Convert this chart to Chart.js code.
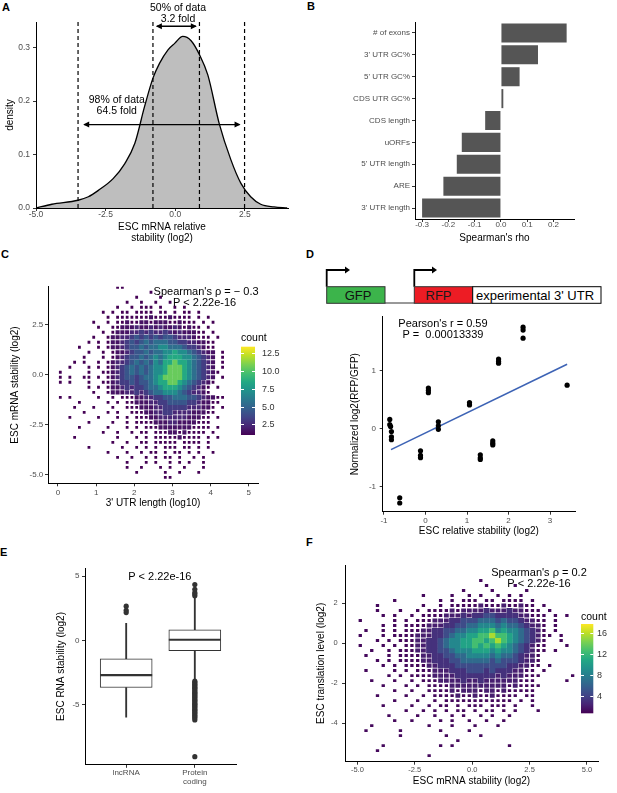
<!DOCTYPE html>
<html>
<head>
<meta charset="utf-8">
<title>ESC mRNA stability</title>
<script src="https://cdn.jsdelivr.net/npm/chart.js@4.4.1/dist/chart.umd.min.js"></script>
<style>
  html, body { margin: 0; padding: 0; background: #fff; }
  body { position: relative; width: 617px; height: 793px; overflow: hidden; font-family: 'Liberation Sans', Arial, sans-serif; }
  canvas { position: absolute; }
  .panel { position: absolute; font-weight: bold; font-size: 11px; line-height: 12px; color: #000; }
  #construct { position: absolute; left: 300px; top: 260px; }
</style>
</head>
<body>
<div class="panel" style="left:2px;top:1px">A</div>
<div class="panel" style="left:307px;top:0px">B</div>
<div class="panel" style="left:1px;top:248px">C</div>
<div class="panel" style="left:306px;top:248px">D</div>
<div class="panel" style="left:0px;top:546px">E</div>
<div class="panel" style="left:306px;top:536px">F</div>

<svg id="construct" width="317" height="50" font-family="'Liberation Sans', Arial, sans-serif">
  <path d="M26.7 26.7 V10 H46" stroke="#000" stroke-width="1.8" fill="none"/>
  <polygon points="45,6.5 50,10 45,13.5" fill="#000"/>
  <path d="M114.3 26.7 V10 H133" stroke="#000" stroke-width="1.8" fill="none"/>
  <polygon points="132,6.5 137,10 132,13.5" fill="#000"/>
  <line x1="85" y1="43" x2="114.3" y2="43" stroke="#333" stroke-width="1"/>
  <rect x="26.7" y="26.7" width="58.3" height="16.6" fill="#3cb44b" stroke="#333" stroke-width="1"/>
  <rect x="114.3" y="26.7" width="58.4" height="16.6" fill="#ed1c24" stroke="#333" stroke-width="1"/>
  <rect x="172.7" y="26.7" width="128.3" height="16.6" fill="#fff" stroke="#000" stroke-width="1"/>
  <text x="58" y="35.5" font-size="13" text-anchor="middle" dominant-baseline="central" fill="#111">GFP</text>
  <text x="138.5" y="35.5" font-size="13" text-anchor="middle" dominant-baseline="central" fill="#1a1a1a">RFP</text>
  <text x="235" y="35.5" font-size="13" text-anchor="middle" dominant-baseline="central" fill="#000">experimental 3' UTR</text>
</svg>

<script>
const FONT = "'Liberation Sans', Arial, Helvetica, sans-serif"
const TICK_COLOR = '#4d4d4d'
Chart.defaults.font.family = FONT
Chart.defaults.animation = false
Chart.defaults.events = []
Chart.defaults.plugins.legend.display = false
Chart.defaults.plugins.tooltip.enabled = false

// ---- A: density of relative stability
const aX = [-5.0, -4.43, -3.49, -3.12, -2.76, -2.23, -1.81, -1.45, -1.10, -0.80, -0.56, -0.26, -0.02, 0.27, 0.57, 0.87, 1.17, 1.58, 2.0, 2.36, 2.71, 3.07, 3.55, 4.02]
const aY = [0, 0.007, 0.0145, 0.021, 0.033, 0.055, 0.083, 0.121, 0.19, 0.243, 0.271, 0.296, 0.308, 0.321, 0.313, 0.287, 0.249, 0.158, 0.09, 0.046, 0.021, 0.007, 0.002, 0]
const aCutoffs = [-3.49, -0.8, 0.87, 2.49]
const aSpan50 = [-0.66, 0.74]
const aSpan98 = [-3.27, 2.31]
const aSpanY = [0.34, 0.156]
const aXTicks = [-5, -2.5, 0, 2.5]
const aYTicks = [0, 0.1, 0.2, 0.3]
const aYMax = 0.348

// ---- B: spearman's rho per feature
const bFeatures = ['# of exons', "3' UTR GC%", "5' UTR GC%", 'CDS UTR GC%', 'CDS length', 'uORFs', "5' UTR length", 'ARE', "3' UTR length"]
const bRho = [0.25, 0.141, 0.071, 0.009, -0.06, -0.149, -0.168, -0.219, -0.30]
const bXTicks = [-0.3, -0.2, -0.1, 0, 0.1, 0.2]

// ---- C: 3' UTR length vs stability, binned counts (digit = count level)
const cXTicks = [0, 1, 2, 3, 4, 5]
const cYTicks = [2.5, 0, -2.5, -5]
const cBarTicks = [2.5, 5, 7.5, 10, 12.5]
const cLevelCounts = [0, 1, 1.6, 2.3, 3.2, 4.3, 5.5, 7, 8.5, 10.5]
const cRows = [
  '............|11..........|............',
  '............|.......1....|............',
  '............|....1....1..|............',
  '............|..1..1..1..1|............',
  '............|1..1.111.1..|1.1.........',
  '.........1.1|.11.1111.11.|1.11.1......',
  '..........1.|111111121112|1111.1.1....',
  '.......1..1.|112112212221|12111.1.1...',
  '........1..1|122232232322|321211.1....',
  '.........1.1|222334343343|2322211.1...',
  '.......1..12|233454545455|43332111.1..',
  '......1.1.12|234545656665|544332211...',
  '....1...1.12|234556566776|665443211...',
  '......1..1.1|223455656677|877654322.1.',
  '.....1...1.1|234556567678|887765432.1.',
  '...1.1..1.12|334565657688|988765432.1.',
  '..1...1.1.12|345656567789|998765432.1.',
  '1.....1..112|345656567789|9987654321..',
  '1.1..11.1.12|345545667899|998765432.1.',
  '1.1...1..112|344545567889|987654321...',
  '......1.1.12|234344566788|87654321.1..',
  '.......1..12|223343456677|76543321....',
  '1.1.....1..1|.11122334455|66655432211.',
  '....1.....1.|1.1122233445|5554432211..',
  '...1...1...1|..1112223344|444333221.1.',
  '.....1....1.|1..111223344|333322211...',
  '..1.....1...|1.1.11122333|33322211.1..',
  '......1....1|..1.11112223|32222111....',
  '....1.....1.|..1.1.111222|22221111.1..',
  '.........1..|1..1.11.1112|2121111.1...',
  '...1........|1...1.1.1111|121111.1.1..',
  '...........1|..1..11.1111|1.1111.1....',
  '......1.....|.1..1.1.1.11|1.11.1.1....',
  '..........1.|..1..1.11.1.|11.1.1..1...',
  '............|1..1..1.1.11|.1..1.1.....',
  '............|..1...1.1..1|.1.1..1.....',
  '............|..1..1...1.1|..1...1.....',
  '............|....1.....1.|.1...1......',
  '............|..........11|............',
]

// ---- D: reporter assay
const dX = [-0.86, -0.86, -0.84, -0.82, -0.82, -0.82, -0.62, -0.62, -0.12, -0.12, -0.12, 0.07, 0.07, 0.07, 0.31, 0.31, 0.31, 1.06, 1.06, 1.32, 1.32, 1.32, 1.62, 1.62, 1.62, 1.76, 1.76, 1.76, 2.35, 2.35, 2.35, 3.41]
const dY = [0.16, 0.07, 0.04, -0.05, -0.14, -0.19, -1.19, -1.28, -0.38, -0.46, -0.5, 0.7, 0.66, 0.62, 0.12, 0.05, -0.01, 0.45, 0.41, -0.45, -0.5, -0.53, -0.21, -0.25, -0.28, 1.2, 1.16, 1.13, 1.75, 1.7, 1.56, 0.75]
const dFitX = [-0.83, 3.41]
const dFitY = [-0.36, 1.11]
const dXTicks = [-1, 0, 1, 2, 3]
const dYTicks = [-1, 0, 1]

// ---- E: box plots
const eCats = ['lncRNA', ['Protein', 'coding']]
const eX = [1, 2]
const eLo = [-5.98, -3.08]
const eQ1 = [-3.67, -0.81]
const eMed = [-2.7, 0.05]
const eQ3 = [-1.44, 0.83]
const eHi = [1.33, 3.3]
const eOutLnc = [2.17, 2.35, 2.67]
const eOutPc = [3.48, 3.62, 3.73, 3.98, 4.36, -3.18, -3.27, -3.38, -3.46, -3.55, -3.66, -3.74, -3.83, -3.95, -4.04, -4.12, -4.23, -4.31, -4.42, -4.5, -4.61, -4.7, -4.78, -4.9, -4.98, -5.07, -5.18, -5.26, -5.37, -5.45, -5.56, -5.65, -5.74, -5.86, -5.95, -6.06, -6.2, -9.07]
const eYTicks = [5, 0, -5]

// ---- F: stability vs translation, binned counts
const fXTicks = [-5, -2.5, 0, 2.5, 5]
const fYTicks = [2, 0, -2, -4]
const fBarTicks = [4, 8, 12, 16]
const fLevelCounts = [0, 1, 2, 3, 4.5, 6.5, 8.5, 10.5, 12.5, 15.5]
const fRows = [
  '...........|...........|...........|...........',
  '...........|...........|.1.........|...........',
  '...........|...........|..1....1...|...........',
  '...........|.........1.|...1.....1.|...........',
  '...........|..1....1..1|.1..1.1.1..|...........',
  '........1..|.....1.1.11|1.11.1111.1|...........',
  '.....1.....|..1..1.1111|12111211211|.1.........',
  '.....1...1.|.1.11112122|22322232211|1.1........',
  '......1.1..|1.111122232|33443333221|11.1.1.....',
  '..1.....1.1|.1112223344|45554544322|11.1.......',
  '......1.1.1|11122233445|56665655432|21.1.......',
  '...1..1.1.1|11223344556|67786766543|21.1.......',
  '..1...1.111|12223345667|78898876543|211.1......',
  '.....1.1.11|12233456677|88789876543|21..1......',
  '..1...1.1.1|12233456677|87878765432|11...1.....',
  '....1..1.11|12233445666|77767665432|11.1.......',
  '...1...1.11|11223344556|66656554322|1..........',
  '.....1.1.11|11223334455|55545444322|1..........',
  '......1.1.1|11122333444|44444433221|1.1........',
  '...1....1.1|.1112223334|44343332211|.1.........',
  '.......1.1.|11112222333|33332322211|1.....1....',
  '....1...1..|1.111222232|23222222111|.....1.....',
  '......1...1|.1.11112222|22222212111|1..........',
  '........1..|1..11112122|21221211111|...........',
  '.....1....1|..1.1111211|21121111.11|...........',
  '........1..|.1..1.11111|1111111.1.1|...........',
  '......1....|1..1.11.1.1|11.111.1..1|...........',
  '..........1|..1.1.1.11.|1.11.1.1...|1..........',
  '.......1...|.1..1..1.1.|.1.1..1....|...........',
  '........1..|1....1.1..1|..1..1.....|...........',
  '....1......|...1...1...|1...1......|...........',
  '...1.....1.|.....1....1|...........|...........',
  '.........1.|......1....|.1.........|...........',
  '...........|........1..|...........|...........',
  '......1....|.....1.1...|......1....|...........',
  '.....1.....|...........|...........|...........',
  '...........|...1.......|...........|...........',
]

// ---------- helpers
const VIRIDIS = ['#440154', '#482475', '#414487', '#355f8d', '#2a788e', '#21918c', '#22a884', '#44bf70', '#7ad151', '#bddf26', '#fde725']

function hexRgb(h) { return [1, 3, 5].map(i => parseInt(h.slice(i, i + 2), 16)) }
function viridis(t) {
  t = Math.max(0, Math.min(1, t))
  const s = t * (VIRIDIS.length - 1)
  const i = Math.min(Math.floor(s), VIRIDIS.length - 2)
  const f = s - i
  const a = hexRgb(VIRIDIS[i]), b = hexRgb(VIRIDIS[i + 1])
  return `rgb(${a.map((v, k) => Math.round(v + (b[k] - v) * f)).join(',')})`
}

function makeCanvas(left, top, w, h) {
  const c = document.createElement('canvas')
  c.width = w; c.height = h
  c.style.left = left + 'px'; c.style.top = top + 'px'
  c.style.width = w + 'px'; c.style.height = h + 'px'
  document.body.appendChild(c)
  return c
}

function axis(o) {
  const horizontal = o.pos === 'bottom'
  const ticks = { padding: o.pad, color: TICK_COLOR, font: { size: o.fs, lineHeight: o.lh || 1 }, autoSkip: false, maxRotation: 0, minRotation: 0 }
  if (o.fmt) ticks.callback = o.fmt
  const a = {
    type: o.type || 'linear',
    position: o.pos,
    offset: !!o.offset,
    afterFit: s => { if (horizontal) s.height = o.size; else s.width = o.size },
    grid: { display: true, offset: false, drawOnChartArea: false, drawTicks: true, tickLength: 3, tickColor: '#333', lineWidth: 1 },
    border: { display: true, color: '#000', width: 1 },
    ticks,
    title: o.title ? { display: true, text: o.title, color: '#000', font: { size: 10, lineHeight: 1.1 }, padding: o.tpad } : { display: false },
  }
  if (o.min !== undefined) { a.min = o.min; a.max = o.max }
  if (o.ticks) a.afterBuildTicks = s => { s.ticks = o.ticks.map(v => ({ value: v })) }
  return a
}

const textPlugin = items => ({
  id: 'texts',
  afterDraw(chart) {
    const { ctx, scales: { x, y } } = chart
    ctx.save()
    ctx.textAlign = 'center'
    ctx.textBaseline = 'middle'
    ctx.fillStyle = '#000'
    items.forEach(t => {
      ctx.font = `${t.size || 11}px ${FONT}`
      ctx.fillText(t.text, x.getPixelForValue(t.x), y.getPixelForValue(t.y))
    })
    ctx.restore()
  }
})

const arrowHeads = {
  id: 'arrowHeads',
  afterDatasetsDraw(chart) {
    const ctx = chart.ctx
    chart.data.datasets.forEach((ds, i) => {
      if (!ds.arrow) return
      const pts = chart.getDatasetMeta(i).data
      ctx.save()
      ctx.fillStyle = '#000'
      ;[[pts[0], -1], [pts[pts.length - 1], 1]].forEach(([p, dir]) => {
        ctx.beginPath()
        ctx.moveTo(p.x + dir, p.y)
        ctx.lineTo(p.x - dir * 5, p.y - 3)
        ctx.lineTo(p.x - dir * 5, p.y + 3)
        ctx.closePath()
        ctx.fill()
      })
      ctx.restore()
    })
  }
}

function colorbar(o) {
  return {
    id: 'colorbar',
    afterDraw(chart) {
      const { ctx } = chart
      const bottom = o.top + o.h
      const toPx = v => bottom - (v - o.min) / (o.max - o.min) * o.h
      const g = ctx.createLinearGradient(0, bottom, 0, o.top)
      VIRIDIS.forEach((c, i) => g.addColorStop(i / (VIRIDIS.length - 1), c))
      ctx.save()
      ctx.fillStyle = g
      ctx.fillRect(o.x, o.top, o.w, o.h)
      ctx.strokeStyle = '#fff'
      ctx.lineWidth = 1
      ctx.font = `9px ${FONT}`
      ctx.textAlign = 'left'
      ctx.textBaseline = 'middle'
      ctx.fillStyle = '#333'
      o.ticks.forEach(v => {
        const y = Math.round(toPx(v)) + 0.5
        ctx.beginPath()
        ctx.moveTo(o.x, y); ctx.lineTo(o.x + 3, y)
        ctx.moveTo(o.x + o.w - 3, y); ctx.lineTo(o.x + o.w, y)
        ctx.stroke()
        ctx.fillText(o.fmt(v), o.labelX, y)
      })
      ctx.fillStyle = '#000'
      ctx.font = `10.5px ${FONT}`
      ctx.fillText('count', o.x, o.titleY)
      ctx.restore()
    }
  }
}

function binCells(rows, x0, dx, yTop, dy, levels) {
  const out = []
  rows.forEach((r, j) => {
    const row = r.replace(/\|/g, '')
    for (let i = 0; i < row.length; i++) {
      if (row[i] === '.') continue
      out.push({ x: x0 + (i + 0.5) * dx, y: yTop - (j + 0.5) * dy, count: levels[+row[i]] })
    }
  })
  return out.sort((a, b) => a.count - b.count)
}

const cellPx = (s, d) => Math.abs(s.getPixelForValue(d) - s.getPixelForValue(0))
// single-count bins read as thin specks, like the original fine binning
const cellScale = c => { const n = c.raw ? c.raw.count : 3; return n <= 1 ? 0.55 : n < 2.5 ? 0.8 : 1 }

function heatDataset(cells, dx, dy, min, max) {
  return {
    data: cells,
    pointStyle: 'line',
    pointRadius: c => (cellPx(c.chart.scales.x, dx) / 2 + 0.15) * cellScale(c),
    pointBorderWidth: c => (cellPx(c.chart.scales.y, dy) + 0.2) * cellScale(c),
    pointBorderColor: c => viridis(((c.raw ? c.raw.count : min) - min) / (max - min)),
    pointBackgroundColor: 'rgba(0,0,0,0)',
  }
}

// ---------- A
new Chart(makeCanvas(0, 0, 300, 245), {
  type: 'line',
  data: {
    datasets: [
      ...aCutoffs.map(q => ({ data: [{ x: q, y: 0 }, { x: q, y: aYMax }], borderColor: '#000', borderWidth: 1.2, borderDash: [4, 3], pointRadius: 0 })),
      { data: aSpan50.map(x => ({ x, y: aSpanY[0] })), borderColor: '#000', borderWidth: 1.4, pointRadius: 0, arrow: true },
      { data: aSpan98.map(x => ({ x, y: aSpanY[1] })), borderColor: '#000', borderWidth: 1.4, pointRadius: 0, arrow: true },
      { data: aX.map((x, i) => ({ x, y: aY[i] })), borderColor: '#000', borderWidth: 1.3, backgroundColor: '#bebebe', fill: 'origin', pointRadius: 0, cubicInterpolationMode: 'monotone' },
    ]
  },
  options: {
    responsive: false,
    layout: { padding: { top: 22, right: 12, left: 0, bottom: 0 } },
    scales: {
      x: axis({ pos: 'bottom', min: -5, max: 4.05, ticks: aXTicks, fmt: v => v.toFixed(1), size: 37, pad: -1, fs: 8.5, title: ['ESC mRNA relative', 'stability (log2)'], tpad: { bottom: 1.5 } }),
      y: axis({ pos: 'left', min: 0, max: aYMax, ticks: aYTicks, fmt: v => v.toFixed(1), size: 36, pad: 3, fs: 8.5, title: 'density', tpad: { top: 4.5 } }),
    }
  },
  plugins: [arrowHeads, textPlugin([
    { x: 0.1, y: 0.3745, text: '50% of data', size: 10.5 },
    { x: 0.1, y: 0.3535, text: '3.2 fold', size: 10.5 },
    { x: -2.1, y: 0.202, text: '98% of data', size: 10.5 },
    { x: -2.1, y: 0.182, text: '64.5 fold', size: 10.5 },
  ])]
})

// ---------- B
new Chart(makeCanvas(300, 0, 317, 245), {
  type: 'bar',
  data: { labels: bFeatures, datasets: [{ data: bRho, backgroundColor: '#555555', barPercentage: 0.87, categoryPercentage: 1 }] },
  options: {
    responsive: false,
    indexAxis: 'y',
    layout: { padding: { top: 22, right: 43, left: 0, bottom: 0 } },
    scales: {
      x: axis({ pos: 'bottom', min: -0.327, max: 0.278, ticks: bXTicks, fmt: v => v.toFixed(1), size: 26, pad: -1, fs: 8, title: "Spearman's rho", tpad: { bottom: 1.5 } }),
      y: axis({ type: 'category', pos: 'left', offset: true, size: 115, pad: 2, fs: 8 }),
    }
  }
})

// ---------- C
new Chart(makeCanvas(0, 260, 300, 252), {
  type: 'scatter',
  data: { datasets: [heatDataset(binCells(cRows, 0, 0.125, 4.5, 0.25, cLevelCounts), 0.125, 0.25, 1, 13.4)] },
  options: {
    responsive: false,
    layout: { padding: { top: 26.7, right: 42, left: 0, bottom: 0 } },
    scales: {
      x: axis({ pos: 'bottom', min: -0.26, max: 5.24, ticks: cXTicks, fmt: v => String(v), size: 28.7, pad: 2.2, fs: 8, title: "3' UTR length (log10)", tpad: { bottom: 3.2 } }),
      y: axis({ pos: 'left', min: -5.42, max: 4.4, ticks: cYTicks, fmt: v => v.toFixed(1), size: 48, pad: 1.7, fs: 8, title: 'ESC mRNA stability (log2)', tpad: { top: 9.5 } }),
    }
  },
  plugins: [
    colorbar({ x: 241, top: 86.7, w: 14, h: 88.3, min: 1, max: 13.4, ticks: cBarTicks, fmt: v => v.toFixed(1), labelX: 262, titleY: 78 }),
    textPlugin([
      { x: 3.88, y: 4.12, text: "Spearman's ρ = − 0.3" },
      { x: 3.84, y: 3.59, text: 'P < 2.22e-16' },
    ])
  ]
})

// ---------- D
new Chart(makeCanvas(300, 262, 317, 280), {
  type: 'scatter',
  data: {
    datasets: [
      { data: dX.map((x, i) => ({ x, y: dY[i] })), pointRadius: 2.6, pointBackgroundColor: '#000', pointBorderWidth: 0 },
      { data: dFitX.map((x, i) => ({ x, y: dFitY[i] })), showLine: true, borderColor: '#3d63b5', borderWidth: 1.6, pointRadius: 0 },
    ]
  },
  options: {
    responsive: false,
    layout: { padding: { top: 54.7, right: 42, left: 0, bottom: 0 } },
    scales: {
      x: axis({ pos: 'bottom', min: -1.03, max: 3.6, ticks: dXTicks, fmt: v => String(v), size: 30.3, pad: 2, fs: 8, title: 'ESC relative stability (log2)', tpad: { bottom: 4.8 } }),
      y: axis({ pos: 'left', min: -1.43, max: 1.93, ticks: dYTicks, fmt: v => String(v), size: 82.7, pad: 3.7, fs: 8, title: 'Normalized log2(RFP/GFP)', tpad: { top: 49.5 } }),
    }
  },
  plugins: [textPlugin([
    { x: 0.42, y: 1.80, text: "Pearson's r = 0.59" },
    { x: 0.42, y: 1.61, text: 'P =  0.00013339' },
  ])]
})

// ---------- E
new Chart(makeCanvas(0, 540, 300, 253), {
  type: 'bar',
  data: {
    datasets: [
      { type: 'scatter', data: eX.map((x, i) => ({ x, y: eMed[i] })), pointStyle: 'line', pointRadius: 26, pointBorderWidth: 2.2, pointBorderColor: '#333' },
      { type: 'scatter', data: [...eOutLnc.map(y => ({ x: eX[0], y })), ...eOutPc.map(y => ({ x: eX[1], y }))], pointRadius: 2.6, pointBackgroundColor: '#333', pointBorderWidth: 0 },
      { data: eX.map((x, i) => ({ x, y: [eQ1[i], eQ3[i]] })), backgroundColor: '#fff', borderColor: '#333', borderWidth: 1, borderSkipped: false, barThickness: 52, grouped: false },
      { data: eX.map((x, i) => ({ x, y: [eQ3[i], eHi[i]] })), backgroundColor: '#333', barThickness: 1.2, grouped: false },
      { data: eX.map((x, i) => ({ x, y: [eLo[i], eQ1[i]] })), backgroundColor: '#333', barThickness: 1.2, grouped: false },
    ]
  },
  options: {
    responsive: false,
    layout: { padding: { top: 25, right: 64, left: 0, bottom: 0 } },
    scales: {
      x: axis({ pos: 'bottom', min: 0.4, max: 2.6, ticks: eX, fmt: v => eCats[eX.indexOf(v)], size: 24.7, pad: 0.7, fs: 8, lh: 1.1 }),
      y: axis({ pos: 'left', min: -9.7, max: 5.63, ticks: eYTicks, fmt: v => String(v), size: 85, pad: 2.5, fs: 8, title: 'ESC RNA stability (log2)', tpad: { top: 55.5 } }),
    }
  },
  plugins: [textPlugin([{ x: 1.49, y: 4.95, text: 'P < 2.22e-16' }])]
})

// ---------- F
new Chart(makeCanvas(300, 540, 317, 253), {
  type: 'scatter',
  data: { datasets: [heatDataset(binCells(fRows, -5.5, 0.25, 3.5, 0.25, fLevelCounts), 0.25, 0.25, 0.6, 17.7)] },
  options: {
    responsive: false,
    layout: { padding: { top: 25, right: 19, left: 0, bottom: 0 } },
    scales: {
      x: axis({ pos: 'bottom', min: -5.54, max: 5.48, ticks: fXTicks, fmt: v => v.toFixed(1), size: 31.3, pad: 1.5, fs: 7.5, title: 'ESC mRNA stability (log2)', tpad: { bottom: 5.8 } }),
      y: axis({ pos: 'left', min: -5.93, max: 3.9, ticks: fYTicks, fmt: v => String(v), size: 45, pad: 4.3, fs: 7.5, title: 'ESC translation level (log2)', tpad: { top: 16.2 } }),
    }
  },
  plugins: [
    colorbar({ x: 281, top: 84, w: 12.3, h: 89.3, min: 0.6, max: 17.7, ticks: fBarTicks, fmt: v => String(v), labelX: 297, titleY: 76.7 }),
    textPlugin([
      { x: 2.91, y: 3.49, text: "Spearman's ρ = 0.2" },
      { x: 2.91, y: 2.94, text: 'P < 2.22e-16' },
    ])
  ]
})
</script>
</body>
</html>
